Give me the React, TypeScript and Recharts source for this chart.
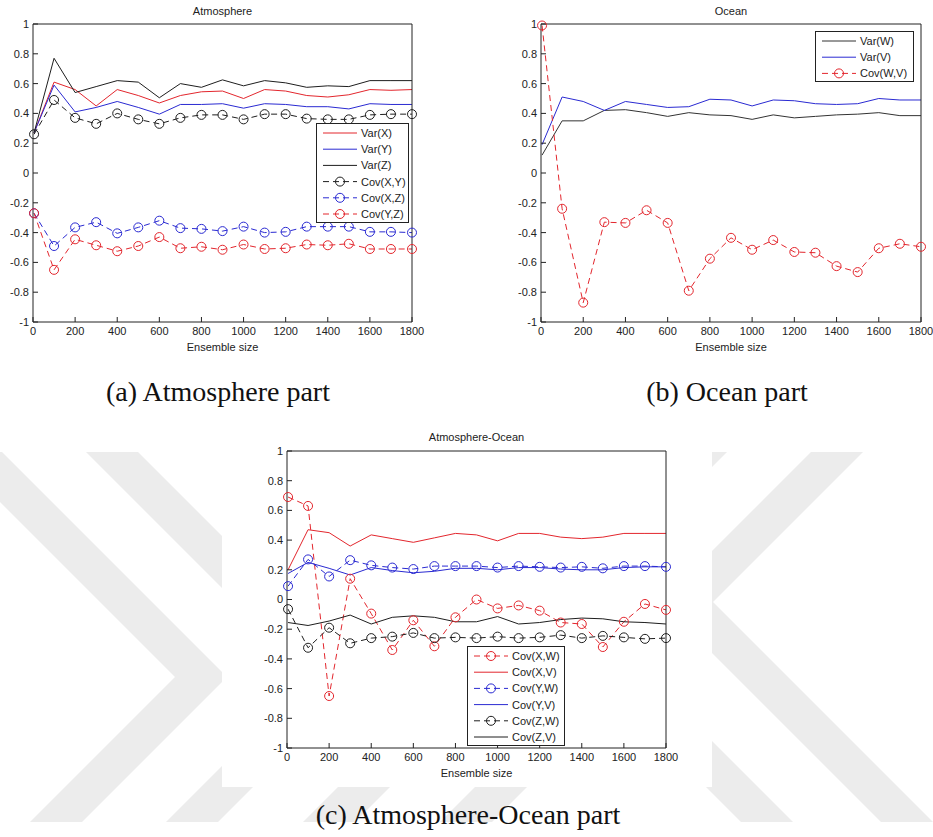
import React from 'react';
import { LineChart, Line, XAxis, YAxis, Legend } from 'recharts';

// Ensemble sizes used on every panel
const ensembleSizes = [5, 100, 200, 300, 400, 500, 600, 700, 800, 900, 1000, 1100, 1200, 1300, 1400, 1500, 1600, 1700, 1800];
const xTicks = [0, 200, 400, 600, 800, 1000, 1200, 1400, 1600, 1800];
const yTicks = [-1, -0.8, -0.6, -0.4, -0.2, 0, 0.2, 0.4, 0.6, 0.8, 1];

// Atmosphere part
const varX = [0.27, 0.61, 0.56, 0.45, 0.56, 0.52, 0.47, 0.52, 0.545, 0.55, 0.5, 0.56, 0.55, 0.52, 0.51, 0.525, 0.56, 0.555, 0.56];
const varY = [0.27, 0.59, 0.41, 0.44, 0.48, 0.44, 0.395, 0.46, 0.46, 0.465, 0.435, 0.465, 0.46, 0.445, 0.445, 0.43, 0.465, 0.46, 0.46];
const varZ = [0.27, 0.77, 0.54, 0.58, 0.62, 0.61, 0.505, 0.6, 0.575, 0.625, 0.585, 0.62, 0.605, 0.575, 0.585, 0.58, 0.62, 0.62, 0.62];
const covXY = [0.26, 0.49, 0.37, 0.33, 0.4, 0.36, 0.33, 0.37, 0.39, 0.39, 0.36, 0.395, 0.395, 0.365, 0.36, 0.36, 0.39, 0.395, 0.395];
const covXZ = [-0.27, -0.49, -0.365, -0.33, -0.405, -0.365, -0.32, -0.37, -0.375, -0.39, -0.36, -0.4, -0.395, -0.36, -0.36, -0.36, -0.395, -0.395, -0.4];
const covYZ = [-0.27, -0.65, -0.445, -0.485, -0.525, -0.49, -0.43, -0.505, -0.495, -0.515, -0.48, -0.51, -0.505, -0.48, -0.485, -0.475, -0.51, -0.51, -0.51];

// Ocean part
const varW = [0.12, 0.35, 0.35, 0.42, 0.425, 0.405, 0.38, 0.405, 0.39, 0.385, 0.36, 0.39, 0.37, 0.38, 0.39, 0.395, 0.405, 0.385, 0.385];
const varV = [0.19, 0.51, 0.48, 0.42, 0.48, 0.46, 0.44, 0.445, 0.495, 0.49, 0.45, 0.49, 0.485, 0.465, 0.46, 0.465, 0.5, 0.49, 0.49];
const covWV = [0.99, -0.24, -0.87, -0.33, -0.335, -0.25, -0.335, -0.79, -0.575, -0.435, -0.515, -0.45, -0.53, -0.535, -0.625, -0.665, -0.505, -0.475, -0.495];

// Atmosphere-Ocean part
const covXW = [0.69, 0.63, -0.65, 0.14, -0.095, -0.34, -0.14, -0.315, -0.12, 0.0, -0.06, -0.04, -0.075, -0.155, -0.165, -0.32, -0.15, -0.03, -0.07];
const covXV = [0.2, 0.47, 0.45, 0.36, 0.435, 0.41, 0.385, 0.415, 0.445, 0.435, 0.395, 0.445, 0.445, 0.42, 0.41, 0.42, 0.445, 0.445, 0.445];
const covYW = [0.09, 0.27, 0.155, 0.265, 0.23, 0.215, 0.205, 0.225, 0.225, 0.225, 0.215, 0.225, 0.22, 0.215, 0.22, 0.21, 0.225, 0.225, 0.22];
const covYV = [0.175, 0.25, 0.21, 0.165, 0.215, 0.195, 0.18, 0.19, 0.21, 0.21, 0.2, 0.215, 0.215, 0.205, 0.2, 0.2, 0.215, 0.22, 0.22];
const covZW = [-0.065, -0.325, -0.19, -0.295, -0.26, -0.25, -0.225, -0.26, -0.255, -0.26, -0.25, -0.26, -0.255, -0.24, -0.26, -0.245, -0.255, -0.265, -0.26];
const covZV = [-0.155, -0.175, -0.145, -0.105, -0.165, -0.12, -0.11, -0.12, -0.15, -0.15, -0.115, -0.165, -0.155, -0.135, -0.125, -0.13, -0.15, -0.155, -0.165];

const RED = '#e3262d';
const BLUE = '#2a2ad2';
const BLACK = '#1e1e1e';
const INK = '#222';
const SANS = '"Liberation Sans", Arial, Helvetica, sans-serif';
const SERIF = '"Liberation Serif", "Times New Roman", serif';

type Series = { key: string; name: string; color: string; marker: boolean; values: number[] };

const atmosphereSeries: Series[] = [
  { key: 'varX', name: 'Var(X)', color: RED, marker: false, values: varX },
  { key: 'varY', name: 'Var(Y)', color: BLUE, marker: false, values: varY },
  { key: 'varZ', name: 'Var(Z)', color: BLACK, marker: false, values: varZ },
  { key: 'covXY', name: 'Cov(X,Y)', color: BLACK, marker: true, values: covXY },
  { key: 'covXZ', name: 'Cov(X,Z)', color: BLUE, marker: true, values: covXZ },
  { key: 'covYZ', name: 'Cov(Y,Z)', color: RED, marker: true, values: covYZ },
];

const oceanSeries: Series[] = [
  { key: 'varW', name: 'Var(W)', color: '#333', marker: false, values: varW },
  { key: 'varV', name: 'Var(V)', color: BLUE, marker: false, values: varV },
  { key: 'covWV', name: 'Cov(W,V)', color: RED, marker: true, values: covWV },
];

const coupledSeries: Series[] = [
  { key: 'covXW', name: 'Cov(X,W)', color: RED, marker: true, values: covXW },
  { key: 'covXV', name: 'Cov(X,V)', color: RED, marker: false, values: covXV },
  { key: 'covYW', name: 'Cov(Y,W)', color: BLUE, marker: true, values: covYW },
  { key: 'covYV', name: 'Cov(Y,V)', color: BLUE, marker: false, values: covYV },
  { key: 'covZW', name: 'Cov(Z,W)', color: BLACK, marker: true, values: covZW },
  { key: 'covZV', name: 'Cov(Z,V)', color: BLACK, marker: false, values: covZV },
];

function buildRows(series: Series[]) {
  return ensembleSizes.map((n, i) => {
    const row: Record<string, number> = { n };
    series.forEach((s) => {
      row[s.key] = s.values[i];
    });
    return row;
  });
}

const formatY = (v: number) => String(Math.round(v * 10) / 10);

const ringDot = (color: string) => (props: any) => {
  const { cx, cy, index } = props;
  if (cx == null || cy == null) return <g key={`d${index}`} />;
  return <circle key={`d${index}`} cx={cx} cy={cy} r={4.5} fill="none" stroke={color} strokeWidth={1} />;
};

type LegendSpec = { x: number; y: number; w: number; h: number };

function LegendBox({ series, spec }: { series: Series[]; spec: LegendSpec }) {
  const rowTop = 10;
  const rowGap = 16.2;
  return (
    <div style={{ width: spec.w, height: spec.h, border: `1px solid ${INK}`, background: '#fff', boxSizing: 'border-box' }}>
      <svg width={spec.w - 2} height={spec.h - 2} style={{ display: 'block' }}>
        {series.map((s, i) => {
          const y = rowTop - 1 + i * rowGap;
          return (
            <g key={s.key}>
              <line x1={6} x2={40} y1={y} y2={y} stroke={s.color} strokeWidth={1} strokeDasharray={s.marker ? '6 4' : undefined} />
              {s.marker && <circle cx={23} cy={y} r={4.5} fill="none" stroke={s.color} strokeWidth={1} />}
              <text x={44} y={y} dy="0.36em" fontSize={11} fontFamily={SANS} fill={INK}>
                {s.name}
              </text>
            </g>
          );
        })}
      </svg>
    </div>
  );
}

type Margin = { top: number; right: number; bottom: number; left: number };

type PanelProps = {
  title: string;
  series: Series[];
  left: number;
  top: number;
  width: number;
  height: number;
  margin: Margin;
  legend: LegendSpec;
  titleY: number;
  labelY: number;
  background?: string;
};

const Y_AXIS_W = 30;
const X_AXIS_H = 20;

function Panel(p: PanelProps) {
  const rows = buildRows(p.series);
  const plotLeft = p.margin.left + Y_AXIS_W;
  const plotRight = p.width - p.margin.right - 1;
  const cx = (plotLeft + plotRight) / 2;
  const tickFont = { fill: INK, fontSize: 11, fontFamily: SANS };
  const axisStroke = { stroke: INK, strokeWidth: 1 };
  const textStyle: React.CSSProperties = {
    position: 'absolute',
    left: cx - 100,
    width: 200,
    textAlign: 'center',
    fontFamily: SANS,
    fontSize: 11,
    lineHeight: '14px',
    color: INK,
  };
  return (
    <div style={{ position: 'absolute', left: p.left, top: p.top, width: p.width, height: p.height, background: p.background }}>
      <LineChart width={p.width} height={p.height} data={rows} margin={p.margin}>
        <XAxis
          xAxisId="bottom"
          dataKey="n"
          type="number"
          domain={[0, 1800]}
          ticks={xTicks}
          interval={0}
          tickSize={-5}
          tickMargin={10}
          tick={tickFont}
          axisLine={axisStroke}
          tickLine={axisStroke}
          height={X_AXIS_H}
        />
        <XAxis
          xAxisId="top"
          orientation="top"
          dataKey="n"
          type="number"
          domain={[0, 1800]}
          ticks={xTicks}
          interval={0}
          tickSize={-5}
          tick={false}
          axisLine={axisStroke}
          tickLine={axisStroke}
          height={1}
        />
        <YAxis
          yAxisId="left"
          type="number"
          domain={[-1, 1]}
          ticks={yTicks}
          interval={0}
          tickSize={-5}
          tickMargin={9}
          tickFormatter={formatY}
          tick={tickFont}
          axisLine={axisStroke}
          tickLine={axisStroke}
          width={Y_AXIS_W}
        />
        <YAxis
          yAxisId="right"
          orientation="right"
          type="number"
          domain={[-1, 1]}
          ticks={yTicks}
          interval={0}
          tickSize={-5}
          tick={false}
          axisLine={axisStroke}
          tickLine={axisStroke}
          width={1}
        />
        {p.series.map((s) => (
          <Line
            key={s.key}
            xAxisId="bottom"
            yAxisId="left"
            dataKey={s.key}
            name={s.name}
            type="linear"
            stroke={s.color}
            strokeWidth={1}
            strokeDasharray={s.marker ? '6 4' : undefined}
            dot={s.marker ? ringDot(s.color) : false}
            activeDot={false}
            isAnimationActive={false}
          />
        ))}
        <Legend
          layout="vertical"
          align="center"
          verticalAlign="middle"
          content={() => <LegendBox series={p.series} spec={p.legend} />}
          wrapperStyle={{ position: 'absolute', left: p.legend.x, top: p.legend.y, width: p.legend.w, height: p.legend.h, margin: 0, padding: 0 }}
        />
      </LineChart>
      <div style={{ ...textStyle, top: p.titleY - 7 }}>{p.title}</div>
      <div style={{ ...textStyle, top: p.labelY - 7 }}>Ensemble size</div>
    </div>
  );
}

// Faint chevron watermark behind the lower panel
function Watermark() {
  const w = 52;
  const L = 320;
  const pointRight = (T: number, c: number) =>
    [[T - L, c - L], [T, c], [T - L, c + L], [T - L - w, c + L], [T - w, c], [T - L - w, c - L]];
  const pointLeft = (T: number, c: number) =>
    [[T + L, c - L], [T, c], [T + L, c + L], [T + L + w, c + L], [T + w, c], [T + L + w, c - L]];
  const shapes = [
    pointRight(227, 677),
    pointRight(363, 677),
    pointRight(500, 677),
    pointRight(637, 677),
    pointLeft(523, 604),
    pointLeft(661, 602),
  ];
  return (
    <svg width={933} height={837} style={{ position: 'absolute', left: 0, top: 0 }}>
      <defs>
        <clipPath id="wm-band">
          <rect x={0} y={452} width={933} height={370} />
        </clipPath>
      </defs>
      <g clipPath="url(#wm-band)" fill="#ececec">
        {shapes.map((pts, i) => (
          <polygon key={i} points={pts.map((q) => q.join(',')).join(' ')} />
        ))}
      </g>
    </svg>
  );
}

function Caption({ text, x, y }: { text: string; x: number; y: number }) {
  return (
    <div
      style={{
        position: 'absolute',
        left: x - 200,
        width: 400,
        top: y - 17,
        lineHeight: '34px',
        textAlign: 'center',
        fontFamily: SERIF,
        fontSize: 28,
        color: '#111',
      }}
    >
      {text}
    </div>
  );
}

export default function App() {
  return (
    <div style={{ position: 'absolute', left: 0, top: 0, width: 933, height: 837, background: '#fff', overflow: 'hidden' }}>
      <Watermark />
      <Panel
        title="Atmosphere"
        series={atmosphereSeries}
        left={0}
        top={0}
        width={460}
        height={360}
        margin={{ top: 23, right: 47, bottom: 18, left: 3 }}
        legend={{ x: 316, y: 123, w: 93, h: 100 }}
        titleY={11}
        labelY={347}
      />
      <Panel
        title="Ocean"
        series={oceanSeries}
        left={470}
        top={0}
        width={463}
        height={360}
        margin={{ top: 23, right: 11, bottom: 18, left: 41 }}
        legend={{ x: 345, y: 31, w: 99, h: 51 }}
        titleY={11}
        labelY={347}
      />
      <Panel
        title="Atmosphere-Ocean"
        series={coupledSeries}
        left={222}
        top={430}
        width={490}
        height={357}
        margin={{ top: 20, right: 45, bottom: 19, left: 35 }}
        legend={{ x: 245, y: 216, w: 98, h: 100 }}
        titleY={7}
        labelY={343}
        background="#fff"
      />
      <Caption text="(a) Atmosphere part" x={218} y={392} />
      <Caption text="(b) Ocean part" x={727} y={392} />
      <Caption text="(c) Atmosphere-Ocean part" x={468} y={815} />
    </div>
  );
}
